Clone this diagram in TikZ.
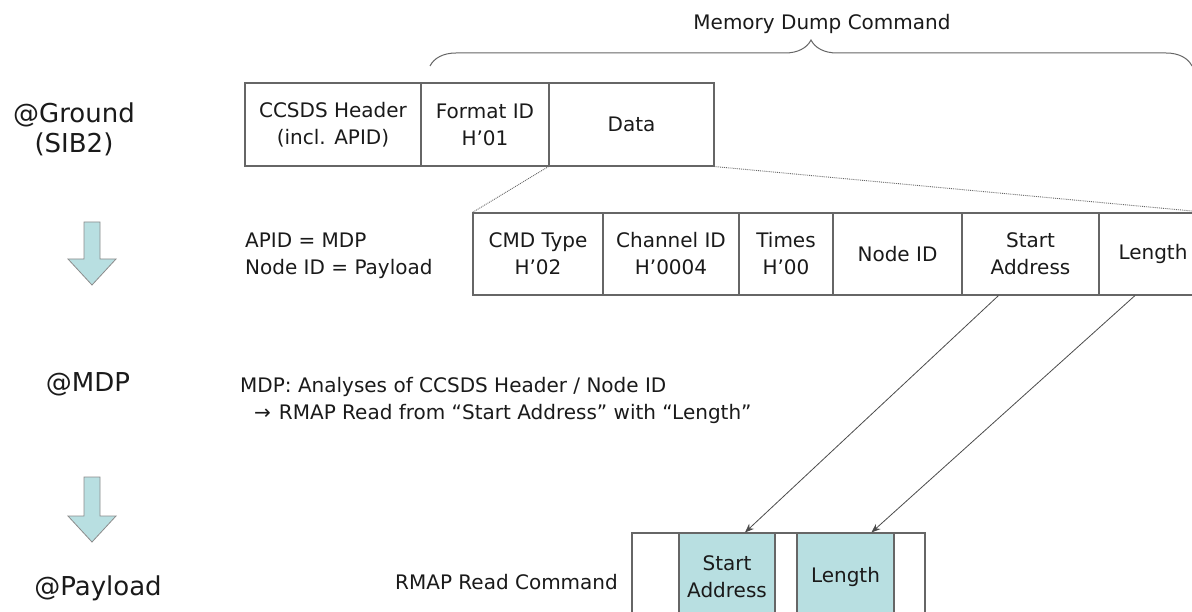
\documentclass[tikz,border=0pt]{standalone}
\usepackage{fontspec}
\setmainfont{DejaVu Sans}
\usetikzlibrary{arrows.meta,decorations.pathreplacing}
\definecolor{cyanfill}{HTML}{B8DFE1}
\definecolor{linegray}{HTML}{666666}
\definecolor{txt}{HTML}{1A1A1A}
\begin{document}
\begin{tikzpicture}[x=1pt,y=-1pt,
  cell/.style={draw=linegray, line width=1.1pt, inner sep=0pt, align=center,
    font=\fontsize{20}{27}\selectfont, text=txt},
  hicell/.style={cell, fill=cyanfill},
  lbl/.style={font=\fontsize{20}{27}\selectfont, text=txt, inner sep=0pt},
  biglbl/.style={font=\fontsize{26}{30}\selectfont, text=txt, inner sep=0pt, align=center},
  dotline/.style={draw=black!60, densely dotted, line width=0.9pt},
  link/.style={draw=black!70, line width=0.8pt, -{Stealth[length=9pt,width=7pt]}},
  downarrow/.style={draw=gray!90, fill=cyanfill, line width=0.8pt}
]
\clip (0,0) rectangle (1192,612);
\fill[white] (0,0) rectangle (1192,612);

% title and brace
\node[lbl] (title) at (822,24) {Memory Dump Command};
\draw[draw=linegray, line width=1pt, decorate, decoration={brace, amplitude=26pt}]
  (430,66) -- (1192,66);

% stage labels
\node[biglbl] (ground) at (74,129) {@Ground\\(SIB2)};
\node[biglbl] (mdp) at (88,384) {@MDP};
\node[biglbl] (payload) at (98,588) {@Payload};

% down arrows
\draw[downarrow] (84,222) -- (100,222) -- (100,259) -- (116,259) -- (92,285) -- (68,259) -- (84,259) -- cycle;
\draw[downarrow] (84,477) -- (100,477) -- (100,516) -- (116,516) -- (92,542) -- (68,516) -- (84,516) -- cycle;

% memory dump command
\node[cell, minimum width=176pt, minimum height=83pt] (hdr) at (333,124.5) {CCSDS Header\\(incl. APID)};
\node[cell, minimum width=128pt, minimum height=83pt] (fmt) at (485,124.5) {Format ID\\H’01};
\node[cell, minimum width=165pt, minimum height=83pt] (data) at (631.5,124.5) {Data};

% data detail
\node[cell, minimum width=130pt, minimum height=82pt] (cmd) at (538,254) {CMD Type\\H’02};
\node[cell, minimum width=136pt, minimum height=82pt] (chan) at (671,254) {Channel ID\\H’0004};
\node[cell, minimum width=94pt, minimum height=82pt] (times) at (786,254) {Times\\H’00};
\node[cell, minimum width=129pt, minimum height=82pt] (nid) at (897.5,254) {Node ID};
\node[cell, minimum width=137pt, minimum height=82pt] (sa) at (1030.5,254) {Start\\Address};
\node[cell, minimum width=108pt, minimum height=82pt] (len) at (1153,254) {Length};

\draw[dotline] (data.south west) -- (cmd.north west);
\draw[dotline] (data.south east) -- (len.north east);

% annotations
\node[lbl, anchor=west, align=left] (apid) at (245,256) {APID = MDP\\Node ID = Payload};
\node[lbl, anchor=west, align=left] (analysis) at (240,400) {MDP: Analyses of CCSDS Header / Node ID\\\hspace*{14pt}→\hspace*{8pt}RMAP Read from “Start Address” with “Length”};
\node[lbl, anchor=west] (rmaplbl) at (395,582) {RMAP Read Command};

% RMAP read command
\node[cell, minimum width=47pt, minimum height=88pt] (b1) at (655.5,577) {};
\node[hicell, minimum width=96pt, minimum height=88pt] (rsa) at (727,577) {Start\\Address};
\node[cell, minimum width=22pt, minimum height=88pt] (b2) at (786,577) {};
\node[hicell, minimum width=97pt, minimum height=88pt] (rlen) at (845.5,577) {Length};
\node[cell, minimum width=31pt, minimum height=88pt] (b3) at (909.5,577) {};

% links
\draw[link] ([xshift=-32pt]sa.south) -- ([xshift=18pt]rsa.north);
\draw[link] ([xshift=-18pt]len.south) -- ([xshift=26pt]rlen.north);
\end{tikzpicture}
\end{document}
